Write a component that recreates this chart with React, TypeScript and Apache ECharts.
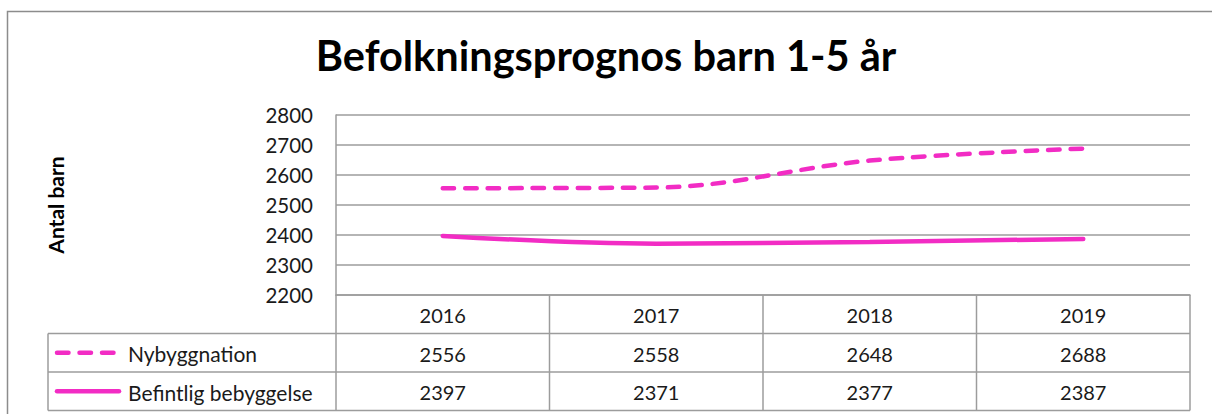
import React, { useEffect, useRef } from "react";
import * as echarts from "echarts";

const years = ["2016", "2017", "2018", "2019"];
const nybyggnation = [2556, 2558, 2648, 2688];
const befintlig = [2397, 2371, 2377, 2387];
const seriesNames = ["Nybyggnation", "Befintlig bebyggelse"];
const titleText = "Befolkningsprognos barn 1-5 år";
const yAxisName = "Antal barn";
const yMin = 2200;
const yMax = 2800;
const yStep = 100;

const PINK = "#F22CC4";
const GRAY = "#9c9c9c";
const TEXT = "#1a1a1a";
const FONT = "Lato, 'Open Sans', sans-serif";

export default function App() {
  const ref = useRef<HTMLDivElement>(null);

  useEffect(() => {
    if (!ref.current) return;
    const chart = echarts.init(ref.current, null, { renderer: "svg" });

    const gridLeft = 336;
    const gridRight = 22;
    const gridTop = 115;
    const gridBottom = 119;
    const W = 1212;
    const H = 414;

    chart.setOption({
      animation: false,
      backgroundColor: "#ffffff",
      title: {
        text: titleText,
        left: "center",
        top: 29,
        textStyle: { fontFamily: FONT, fontWeight: "bold", fontSize: 41.5, color: "#000" },
      },
      grid: { left: gridLeft, right: gridRight, top: gridTop, bottom: gridBottom },
      xAxis: {
        type: "category",
        data: years,
        boundaryGap: true,
        axisLine: { show: true, lineStyle: { color: GRAY, width: 1.5 } },
        axisTick: { show: false },
        axisLabel: { show: false },
      },
      yAxis: {
        type: "value",
        min: yMin,
        max: yMax,
        interval: yStep,
        name: yAxisName,
        nameLocation: "middle",
        nameGap: 270,
        nameRotate: 90,
        nameTextStyle: { fontFamily: FONT, fontWeight: "bold", fontSize: 21, color: "#000" },
        axisLine: { show: true, lineStyle: { color: GRAY, width: 1.5 } },
        axisTick: { show: false },
        axisLabel: {
          fontFamily: FONT,
          fontSize: 20.5,
          color: TEXT,
          margin: 23,
          formatter: (v: number) => String(v),
        },
        splitLine: { show: true, lineStyle: { color: GRAY, width: 1.5 } },
      },
      series: [
        {
          name: seriesNames[0],
          type: "line",
          data: nybyggnation,
          smooth: 0.35,
          showSymbol: false,
          lineStyle: { color: PINK, width: 4.5, type: [11.5, 11], cap: "round" },
        },
        {
          name: seriesNames[1],
          type: "line",
          data: befintlig,
          smooth: 0.35,
          showSymbol: false,
          lineStyle: { color: PINK, width: 4.5, cap: "round" },
        },
      ],
    });

    // Data table below the plot, positioned from the category axis
    const centers = years.map((_, i) => chart.convertToPixel({ xAxisIndex: 0 }, i) as number);
    const plotRight = W - gridRight;
    const colW = (plotRight - gridLeft) / years.length;
    const tableTop = H - gridBottom;
    const rowH = 38.5;
    const legendLeft = 48;
    const rowsY = [tableTop, tableTop + rowH, tableTop + 2 * rowH, tableTop + 3 * rowH];
    const lineStyle = { stroke: GRAY, lineWidth: 1.5 };

    const elements: any[] = [];
    // outer frame
    elements.push({
      type: "rect",
      shape: { x: 7.5, y: 11.5, width: 1300, height: 500 },
      style: { fill: "none", stroke: "#8c8c8c", lineWidth: 1.5 },
      silent: true,
    });
    // horizontal table lines
    elements.push({ type: "line", shape: { x1: legendLeft, y1: rowsY[1], x2: plotRight, y2: rowsY[1] }, style: lineStyle });
    elements.push({ type: "line", shape: { x1: legendLeft, y1: rowsY[2], x2: plotRight, y2: rowsY[2] }, style: lineStyle });
    elements.push({ type: "line", shape: { x1: legendLeft, y1: rowsY[3], x2: plotRight, y2: rowsY[3] }, style: lineStyle });
    // vertical table lines
    elements.push({ type: "line", shape: { x1: legendLeft, y1: rowsY[1], x2: legendLeft, y2: rowsY[3] }, style: lineStyle });
    elements.push({ type: "line", shape: { x1: gridLeft, y1: rowsY[0], x2: gridLeft, y2: rowsY[3] }, style: lineStyle });
    centers.forEach((c) => {
      elements.push({
        type: "line",
        shape: { x1: c + colW / 2, y1: rowsY[0], x2: c + colW / 2, y2: rowsY[3] },
        style: lineStyle,
      });
    });
    const rowData = [years, nybyggnation.map(String), befintlig.map(String)];
    rowData.forEach((row, r) => {
      row.forEach((txt, i) => {
        elements.push({
          type: "text",
          x: centers[i],
          y: (rowsY[r] + rowsY[r + 1]) / 2 + 1,
          style: {
            text: txt,
            fontFamily: FONT,
            fontSize: 20,
            fill: TEXT,
            textAlign: "center",
            textVerticalAlign: "middle",
          },
        });
      });
    });
    // legend keys
    seriesNames.forEach((name, k) => {
      const yMid = (rowsY[k + 1] + rowsY[k + 2]) / 2;
      elements.push({
        type: "line",
        shape: { x1: 57, y1: yMid, x2: k === 0 ? 114 : 119, y2: yMid },
        style: {
          stroke: PINK,
          lineWidth: 4.5,
          lineCap: "round",
          lineDash: k === 0 ? [11.5, 11] : null,
        },
      });
      elements.push({
        type: "text",
        x: 128,
        y: yMid + 1,
        style: {
          text: name,
          fontFamily: FONT,
          fontSize: 21,
          fill: TEXT,
          textAlign: "left",
          textVerticalAlign: "middle",
        },
      });
    });

    chart.setOption({ graphic: { elements } });

    return () => chart.dispose();
  }, []);

  return (
    <div
      ref={ref}
      style={{ position: "fixed", left: 0, top: 0, width: 1212, height: 414 }}
    />
  );
}
